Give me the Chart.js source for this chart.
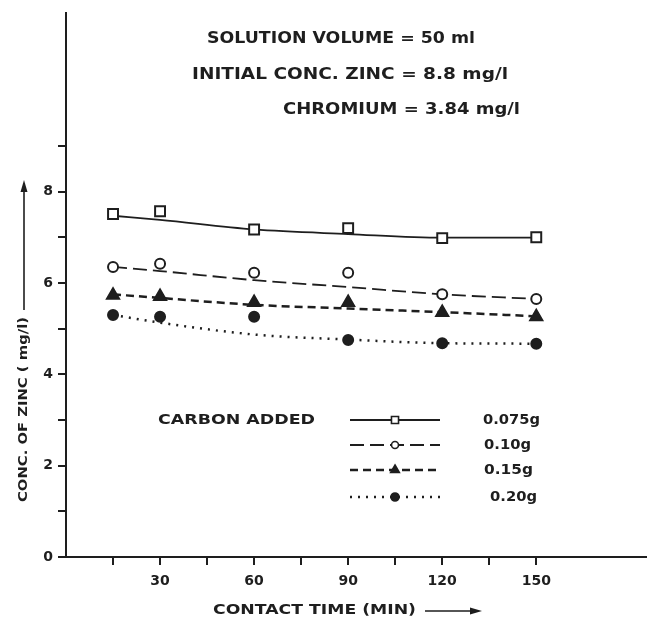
<!DOCTYPE html>
<html>
<head>
<meta charset="utf-8">
<script src="https://cdn.jsdelivr.net/npm/chart.js@4.4.1/dist/chart.umd.min.js"></script>
<style>
  html, body { margin: 0; padding: 0; background: #fff; }
  #chart { display: block; }
</style>
</head>
<body>
<canvas id="chart" width="655" height="623"></canvas>
<script>
// contact time (min) of each sample
const contactTimes = [15, 30, 60, 90, 120, 150];
const carbonDoses = ['0.075g', '0.10g', '0.15g', '0.20g'];

// measured zinc left in solution (mg/l) - the markers
const zinc075 = [7.51, 7.57, 7.17, 7.20, 6.98, 7.00];
const zinc010 = [6.35, 6.42, 6.22, 6.22, 5.75, 5.65];
const zinc015 = [5.73, 5.70, 5.57, 5.57, 5.35, 5.26];
const zinc020 = [5.30, 5.26, 5.26, 4.75, 4.68, 4.67];

// the smooth curves drawn through them
const curve075 = [7.47, 7.38, 7.17, 7.07, 6.99, 6.99];
const curve010 = [6.35, 6.26, 6.06, 5.91, 5.75, 5.65];
const curve015 = [5.75, 5.67, 5.52, 5.44, 5.36, 5.27];
const curve020 = [5.30, 5.13, 4.87, 4.76, 4.68, 4.67];

const xTicks = [15, 30, 45, 60, 75, 90, 105, 120, 135, 150];
const xLabels = [30, 60, 90, 120, 150];
const yTicks = [0, 1, 2, 3, 4, 5, 6, 7, 8, 9];
const yLabels = [0, 2, 4, 6, 8];

const notes = ['SOLUTION VOLUME = 50 ml', 'INITIAL CONC. ZINC = 8.8 mg/l', 'CHROMIUM = 3.84 mg/l'];
const legendTitle = 'CARBON ADDED';
const xTitle = 'CONTACT TIME (MIN)';
const yTitle = 'CONC. OF ZINC ( mg/l)';

const ink = '#1e1e1e';
const FONT = '"DejaVu Sans", "Liberation Sans", sans-serif';

const measured = [zinc075, zinc010, zinc015, zinc020];
const curves = [curve075, curve010, curve015, curve020];
const looks = [
    { dash: [], width: 1.8, point: 'rect', radius: 7, fill: '#fff', legendRadius: 5 },
    { dash: [14, 6], width: 1.8, point: 'circle', radius: 5, fill: '#fff', legendRadius: 3.5 },
    { dash: [8, 5], width: 2.5, point: 'triangle', radius: 7, fill: ink, legendRadius: 5 },
    { dash: [2, 6], width: 2.5, point: 'circle', radius: 5, fill: ink, legendRadius: 4 }
];

function pts(ys) {
    return contactTimes.map((t, i) => ({ x: t, y: ys[i] }));
}

const datasets = [];
curves.forEach((c, i) => {
    datasets.push({
        data: pts(c),
        showLine: true,
        borderColor: ink,
        borderWidth: looks[i].width,
        borderDash: looks[i].dash,
        pointRadius: 0,
        tension: 0.4,
        cubicInterpolationMode: 'monotone',
        order: 2
    });
});
measured.forEach((m, i) => {
    datasets.push({
        data: pts(m),
        showLine: false,
        pointStyle: looks[i].point,
        pointRadius: looks[i].radius,
        pointBackgroundColor: looks[i].fill,
        pointBorderColor: ink,
        pointBorderWidth: 2,
        order: 1
    });
});

// squeeze text horizontally so it spans the same width as the scan
function fitText(ctx, text, x, y, w, size) {
    ctx.font = 'bold ' + size + 'px ' + FONT;
    const m = ctx.measureText(text).width;
    ctx.save();
    ctx.translate(x, y);
    ctx.scale(w / m, 1);
    ctx.textAlign = 'left';
    ctx.textBaseline = 'middle';
    ctx.fillText(text, 0, 0);
    ctx.restore();
}

function arrow(ctx, x1, y1, x2, y2) {
    const a = Math.atan2(y2 - y1, x2 - x1);
    ctx.beginPath();
    ctx.moveTo(x1, y1);
    ctx.lineTo(x2, y2);
    ctx.stroke();
    ctx.beginPath();
    ctx.moveTo(x2 + 4 * Math.cos(a), y2 + 4 * Math.sin(a));
    ctx.lineTo(x2 - 8 * Math.cos(a) - 3.5 * Math.sin(a), y2 - 8 * Math.sin(a) + 3.5 * Math.cos(a));
    ctx.lineTo(x2 - 8 * Math.cos(a) + 3.5 * Math.sin(a), y2 - 8 * Math.sin(a) - 3.5 * Math.cos(a));
    ctx.closePath();
    ctx.fill();
}

const decorations = {
    id: 'decorations',
    afterDraw(chart) {
        const ctx = chart.ctx;
        ctx.save();
        ctx.fillStyle = ink;
        ctx.strokeStyle = ink;

        // header notes
        fitText(ctx, notes[0], 207, 39, 268, 15);
        fitText(ctx, notes[1], 192, 75, 316, 15);
        fitText(ctx, notes[2], 283, 110, 237, 15);

        // x title with arrow
        fitText(ctx, xTitle, 213, 610, 203, 14);
        ctx.lineWidth = 1.6;
        arrow(ctx, 425, 611, 478, 611);

        // y title rotated, arrow pointing up
        ctx.save();
        ctx.translate(24, 502);
        ctx.rotate(-Math.PI / 2);
        fitText(ctx, yTitle, 0, 0, 185, 13);
        ctx.lineWidth = 1.6;
        arrow(ctx, 192, 0, 318, 0);
        ctx.restore();

        // legend
        fitText(ctx, legendTitle, 158, 420, 157, 14);
        const rowY = [420, 445, 470, 497];
        const labelX = [483, 484, 484, 490];
        const labelW = [57, 47, 49, 47];
        looks.forEach((lk, i) => {
            ctx.setLineDash(lk.dash);
            ctx.lineWidth = lk.width;
            ctx.beginPath();
            ctx.moveTo(350, rowY[i]);
            ctx.lineTo(440, rowY[i]);
            ctx.stroke();
            ctx.setLineDash([]);
            ctx.lineWidth = 1.6;
            ctx.fillStyle = lk.fill;
            if (Chart.helpers && Chart.helpers.drawPoint) {
                Chart.helpers.drawPoint(ctx, { pointStyle: lk.point, radius: lk.legendRadius, borderWidth: 1.6, rotation: 0 }, 395, rowY[i]);
            }
            ctx.fillStyle = ink;
            fitText(ctx, carbonDoses[i], labelX[i], rowY[i], labelW[i], 14);
        });
        ctx.restore();
    }
};

new Chart(document.getElementById('chart'), {
    type: 'scatter',
    data: { datasets: datasets },
    options: {
        responsive: false,
        animation: false,
        layout: { padding: { top: 10, right: 8, left: 0, bottom: 0 } },
        plugins: {
            legend: { display: false },
            tooltip: { enabled: false }
        },
        scales: {
            x: {
                type: 'linear',
                min: 0,
                max: 185,
                afterBuildTicks: s => { s.ticks = xTicks.map(v => ({ value: v })); },
                afterFit: s => { s.height = 66; },
                ticks: {
                    autoSkip: false,
                    maxRotation: 0,
                    padding: 8,
                    color: ink,
                    font: { family: FONT, size: 14, weight: 'bold' },
                    callback: v => xLabels.includes(v) ? String(v) : ''
                },
                grid: { drawOnChartArea: false, drawTicks: true, tickLength: 8, color: ink, lineWidth: 2 },
                border: { color: ink, width: 2 }
            },
            y: {
                min: 0,
                max: 11.9,
                afterBuildTicks: s => { s.ticks = yTicks.map(v => ({ value: v })); },
                afterFit: s => { s.width = 66; },
                ticks: {
                    autoSkip: false,
                    padding: 5,
                    color: ink,
                    font: { family: FONT, size: 14, weight: 'bold' },
                    callback: v => yLabels.includes(v) ? String(v) : ''
                },
                grid: { drawOnChartArea: false, drawTicks: true, tickLength: 8, color: ink, lineWidth: 2 },
                border: { color: ink, width: 2 }
            }
        }
    },
    plugins: [decorations]
});
</script>
</body>
</html>
